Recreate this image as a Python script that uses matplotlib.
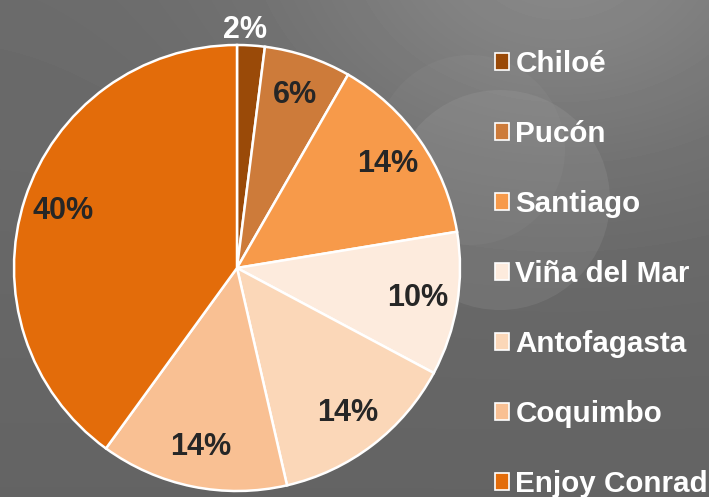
import numpy as np
import matplotlib.pyplot as plt
from matplotlib.patches import Patch, Circle

# data
cities = ['Chiloé', 'Pucón', 'Santiago', 'Viña del Mar', 'Antofagasta', 'Coquimbo', 'Enjoy Conrad']
shares = [2.0, 6.3, 14.1, 10.4, 13.6, 13.6, 40.0]
colors = ['#9a4a08', '#cd7b3a', '#f79a4a', '#fdebdd', '#fbd7b8', '#f9c093', '#e36c0a']

plt.rcParams['font.family'] = ['Liberation Sans', 'DejaVu Sans']

W, H = 709, 497
fig = plt.figure(figsize=(W / 100, H / 100), dpi=100)

# gray slide background with soft light spots
bg = fig.add_axes([0, 0, 1, 1])
yy, xx = np.mgrid[0:H, 0:W]
g = 0.39 + 0.11 * np.exp(-(((xx - 560) / 260) ** 2 + ((yy + 40) / 200) ** 2))
g += 0.03 * (1 - yy / H)
bg.imshow(g, cmap='gray', vmin=0, vmax=1, extent=[0, W, H, 0], aspect='auto')
bg.add_patch(Circle((500, 200), 110, color='white', alpha=0.07, lw=0))
bg.add_patch(Circle((470, 150), 95, color='white', alpha=0.03, lw=0))
bg.set_xlim(0, W)
bg.set_ylim(H, 0)
bg.axis('off')

# pie
cx, cy, r = 237, 268, 223
ax = fig.add_axes([(cx - r) / W, (H - cy - r) / H, 2 * r / W, 2 * r / H])
wedges, texts, autotexts = ax.pie(
    shares, colors=colors, startangle=90, counterclock=False,
    autopct='%.0f%%', pctdistance=0.82,
    wedgeprops=dict(edgecolor='white', linewidth=1.8),
    textprops=dict(fontsize=22, fontweight='bold', color='#262626'))
ax.set_xlim(-1, 1)
ax.set_ylim(-1, 1)

# first slice label sits outside, in white
t = autotexts[0]
x, y = t.get_position()
t.set_position((x / 0.82 * 0.6, y / 0.82 * 1.07))
t.set_color('white')

handles = [Patch(facecolor=c, edgecolor='white', linewidth=1.2) for c in colors]
leg = fig.legend(handles, cities, loc='upper left', bbox_to_anchor=(495 / W, 1 - 50 / H),
                 frameon=False, borderpad=0, borderaxespad=0,
                 handlelength=0.47, handleheight=0.47, handletextpad=0.22,
                 labelspacing=1.42,
                 prop=dict(family='Liberation Sans', weight='bold', size=21.3))
for txt in leg.get_texts():
    txt.set_color('white')

fig.savefig('out.png', dpi=100)
